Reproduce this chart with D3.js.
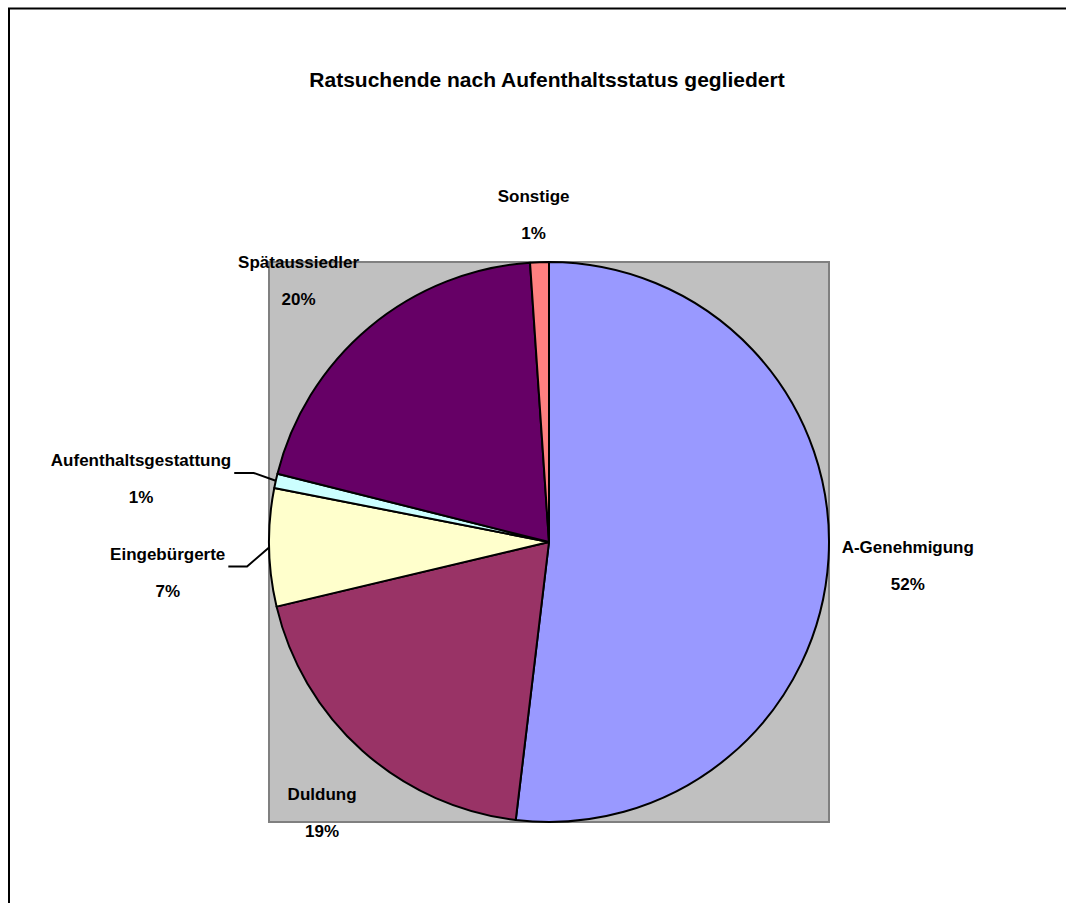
<!DOCTYPE html>
<html>
<head>
<meta charset="utf-8">
<script src="https://cdn.jsdelivr.net/npm/d3@7"></script>
<style>
    body { margin: 0; background: #fff; }
    text { font-family: Arial, "Liberation Sans", sans-serif; font-weight: bold; fill: #000; }
</style>
</head>
<body>
<svg width="1066" height="903"></svg>
<script>
// data (share in percent)
var categories = ["A-Genehmigung", "Duldung", "Eingebürgerte", "Aufenthaltsgestattung", "Spätaussiedler", "Sonstige"];
var values = [51.9, 19.4, 6.8, 0.83, 20.0, 1.08];
var colors = ["#9999FF", "#993366", "#FFFFCC", "#CCFFFF", "#660066", "#FF8080"];
var title = "Ratsuchende nach Aufenthaltsstatus gegliedert";

// label layout (distance from centre, angle nudge in degrees)
var labelRadius = [360, 358, 383, 412, 358, 322];
var labelShift = [1.3, -2.4, -4.3, -4.6, -4.5, -0.8];

var svg = d3.select("svg");

// chart frame
svg.append("rect")
    .attr("x", 9).attr("y", 8.5)
    .attr("width", 1200).attr("height", 1000)
    .attr("fill", "none")
    .attr("stroke", "#000")
    .attr("stroke-width", 2);

svg.append("text")
    .attr("x", 547).attr("y", 86.5)
    .attr("text-anchor", "middle")
    .style("font-size", "21px")
    .text(title);

// plot area
var plot = { x: 269, y: 262, w: 560, h: 560 };
svg.append("rect")
    .attr("x", plot.x).attr("y", plot.y)
    .attr("width", plot.w).attr("height", plot.h)
    .attr("fill", "#C0C0C0")
    .attr("stroke", "#808080")
    .attr("stroke-width", 2);

var radius = plot.w / 2,
    cx = plot.x + radius,
    cy = plot.y + radius;

var pie = d3.pie().sort(null).value(function (d) { return d; });
var arcs = pie(values);

var arc = d3.arc().innerRadius(0).outerRadius(radius);

var g = svg.append("g").attr("transform", "translate(" + cx + "," + cy + ")");

g.selectAll(".slice")
    .data(arcs)
    .enter().append("path")
    .attr("class", "slice")
    .attr("d", arc)
    .attr("fill", function (d, i) { return colors[i]; })
    .attr("stroke", "#000")
    .attr("stroke-width", 2)
    .attr("stroke-linejoin", "round");

function polar(r, a) {
    return [r * Math.sin(a), -r * Math.cos(a)];
}

arcs.forEach(function (d, i) {
    var mid = (d.startAngle + d.endAngle) / 2;
    var pos = polar(labelRadius[i], mid + labelShift[i] * Math.PI / 180);

    var lab = g.append("g").attr("transform", "translate(" + pos[0] + "," + pos[1] + ")");
    var t1 = lab.append("text")
        .attr("y", -18.5)
        .attr("text-anchor", "middle")
        .style("font-size", "17px")
        .text(categories[i]);
    lab.append("text")
        .attr("y", 18.5)
        .attr("text-anchor", "middle")
        .style("font-size", "17px")
        .text(Math.round(values[i]) + "%");

    // leader line for the labels pushed far out
    if (labelRadius[i] > 370) {
        var p = polar(radius, mid);
        var w = t1.node().getComputedTextLength();
        var ly = pos[1] - 18.5 + 7;
        var line = d3.line();
        g.append("path")
            .attr("d", line([[pos[0] + w / 2 + 3, ly], [p[0] - 22, ly], p]))
            .attr("fill", "none")
            .attr("stroke", "#000")
            .attr("stroke-width", 2);
    }
});
</script>
</body>
</html>
